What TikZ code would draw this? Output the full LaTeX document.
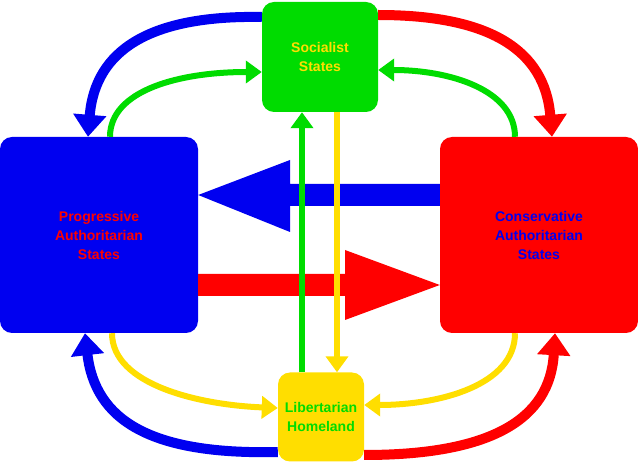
\documentclass[tikz,border=0pt]{standalone}
\usepackage{fontspec}
\setmainfont{Liberation Sans}
\usetikzlibrary{arrows.meta}
\definecolor{cblue}{RGB}{0,0,240}
\definecolor{cred}{RGB}{255,0,0}
\definecolor{cgreen}{RGB}{0,220,0}
\definecolor{cyellow}{RGB}{255,222,0}
\begin{document}
\begin{tikzpicture}[x=1pt,y=-1pt,
  box/.style={rounded corners=12pt,minimum width=#1,align=center,font=\bfseries\fontsize{14}{19}\selectfont,inner sep=0pt},
  thin arr/.style={line width=6pt,draw=#1,-{Triangle[length=16pt,width=22pt]}},
  thick arr/.style={line width=10pt,draw=#1,-{Triangle[length=22pt,width=32pt]}}]
\useasboundingbox (0,0) rectangle (638,462);
\node[box=116pt,minimum height=110pt,fill=cgreen,text=cyellow] (soc) at (320,57) {Socialist\\States};
\node[box=198pt,minimum height=196pt,fill=cblue,text=cred] (pro) at (99,235) {Progressive\\Authoritarian\\States};
\node[box=198pt,minimum height=196pt,fill=cred,text=cblue] (con) at (539,235) {Conservative\\Authoritarian\\States};
\node[box=86pt,minimum height=89pt,fill=cyellow,text=cgreen] (lib) at (321,417) {Libertarian\\Homeland};
% big arrows
\fill[cblue] (con.west |- 0,184) -- (290,184) -- (290,160) -- (pro.east |- 0,195) -- (290,232) -- (290,206) -- (con.west |- 0,206) -- cycle;
\fill[cred] (pro.east |- 0,274) -- (345,274) -- (345,250) -- (con.west |- 0,285) -- (345,320) -- (345,296) -- (pro.east |- 0,296) -- cycle;
% verticals
\draw[thin arr=cgreen] (lib.north -| 302,0) -- (soc.south -| 302,0);
\draw[thin arr=cyellow] (soc.south -| 337,0) -- (lib.north -| 337,0);
% outer curves
\coordinate (sl) at (soc.west |- 0,17);
\coordinate (sr) at (soc.east |- 0,15);
\coordinate (ll) at (lib.west |- 0,452);
\coordinate (lr) at (lib.east |- 0,455);
\draw[thick arr=cblue] (sl) .. controls (150,15) and (95,50) .. (pro.north -| 88,0);
\draw[thick arr=cblue] (ll) .. controls (150,455) and (95,420) .. (pro.south -| 85,0);
\draw[thick arr=cred] (sr) .. controls (490,15) and (545,50) .. (con.north -| 552,0);
\draw[thick arr=cred] (lr) .. controls (490,455) and (550,420) .. (con.south -| 555,0);
% inner curves
\draw[thin arr=cgreen] (pro.north -| 110,0) .. controls (110,90) and (180,72) .. (soc.west |- 0,72);
\draw[thin arr=cgreen] (con.north -| 515,0) .. controls (515,90) and (450,70) .. (soc.east |- 0,70);
\draw[thin arr=cyellow] (pro.south -| 112,0) .. controls (112,385) and (200,405) .. (lib.west |- 0,408);
\draw[thin arr=cyellow] (con.south -| 515,0) .. controls (515,385) and (440,405) .. (lib.east |- 0,405);
\end{tikzpicture}
\end{document}
